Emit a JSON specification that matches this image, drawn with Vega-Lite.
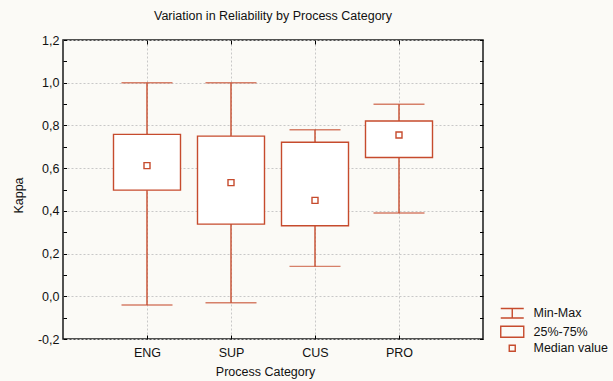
{
  "$schema": "https://vega.github.io/schema/vega-lite/v6.json",
  "width": 420,
  "height": 299,
  "autosize": {"type": "none"},
  "padding": {"left": 63, "top": 40, "right": 130, "bottom": 42},
  "background": "#fbfaf6",
  "config": {
    "font": "Liberation Sans",
    "view": {"stroke": "#1a1a1a", "strokeWidth": 1.5, "fill": "white"}
  },
  "title": {
    "text": "Variation in Reliability by Process Category",
    "font": "Liberation Sans",
    "fontSize": 12.5,
    "fontWeight": "normal",
    "color": "#111111",
    "anchor": "middle",
    "offset": 12
  },
  "data": {
    "values": [
      {"category": "ENG", "min": -0.041, "q1": 0.497, "median": 0.612, "q3": 0.758, "max": 1.0},
      {"category": "SUP", "min": -0.03, "q1": 0.338, "median": 0.532, "q3": 0.75, "max": 1.0},
      {"category": "CUS", "min": 0.14, "q1": 0.33, "median": 0.449, "q3": 0.721, "max": 0.78},
      {"category": "PRO", "min": 0.39, "q1": 0.65, "median": 0.755, "q3": 0.821, "max": 0.899}
    ]
  },
  "layer": [
    {
      "mark": {"type": "rule", "color": "#c64b2d", "strokeWidth": 1.4},
      "encoding": {
        "x": {
          "field": "category", "type": "nominal",
          "scale": {"type": "point", "domain": ["_a", "ENG", "SUP", "CUS", "PRO", "_b"], "padding": 0},
          "axis": {
            "orient": "bottom", "values": ["ENG", "SUP", "CUS", "PRO"], "domain": false,
            "grid": true, "gridColor": "#c8c8c8", "gridDash": [2, 2], "gridWidth": 1,
            "tickSize": -4, "tickColor": "#000000", "labelPadding": 11.3, "labelAngle": 0,
            "labelFontSize": 12.5, "labelColor": "#111111",
            "title": "Process Category", "titleFontSize": 12.5, "titleFontWeight": "normal",
            "titleColor": "#111111", "titleX": 202, "titleY": 26, "titleAnchor": "middle", "titleBaseline": "top"
          }
        },
        "y": {
          "field": "min", "type": "quantitative",
          "scale": {"domain": [-0.2, 1.2], "nice": false, "zero": false},
          "axis": {
            "orient": "left",
            "values": [-0.2, -0.1, 0, 0.1, 0.2, 0.3, 0.4, 0.5, 0.6, 0.7, 0.8, 0.9, 1, 1.1, 1.2],
            "labelExpr": "abs(round(datum.value*10))%2==0 ? (datum.value < -0.001 ? '-' : '') + replace(format(abs(datum.value), '.1f'), '.', ',') : ''",
            "domain": false, "grid": true, "gridColor": "#c8c8c8", "gridDash": [2, 2],
            "gridOpacity": {"condition": {"test": "abs(round(datum.value*10))%2==0", "value": 1}, "value": 0},
            "tickSize": -3.5, "tickColor": "#000000", "labelPadding": 7.5,
            "labelFontSize": 12.5, "labelColor": "#111111",
            "title": "Kappa", "titleFontSize": 12.5, "titleFontWeight": "normal", "titleColor": "#111111",
            "titlePadding": 12, "titleY": 155
          }
        },
        "y2": {"field": "max"}
      }
    },
    {
      "mark": {"type": "tick", "color": "#c64b2d", "size": 51, "thickness": 1.4},
      "encoding": {
        "x": {"field": "category", "type": "nominal", "axis": null},
        "y": {
          "field": "min", "type": "quantitative",
          "axis": {
            "orient": "right",
            "values": [-0.2, -0.1, 0, 0.1, 0.2, 0.3, 0.4, 0.5, 0.6, 0.7, 0.8, 0.9, 1, 1.1, 1.2],
            "labels": false, "domain": false, "grid": false, "tickSize": -3.5, "tickColor": "#000000", "title": null
          }
        }
      }
    },
    {
      "mark": {"type": "tick", "color": "#c64b2d", "size": 51, "thickness": 1.4},
      "encoding": {
        "x": {"field": "category", "type": "nominal", "axis": null},
        "y": {"field": "max", "type": "quantitative", "axis": null}
      }
    },
    {
      "mark": {"type": "bar", "size": 67, "fill": "white", "stroke": "#c64b2d", "strokeWidth": 1.4},
      "encoding": {
        "x": {
          "field": "category", "type": "nominal",
          "axis": {"orient": "top", "values": ["ENG", "SUP", "CUS", "PRO"], "labels": false, "domain": false, "grid": false, "tickSize": -4, "tickColor": "#000000", "title": null}
        },
        "y": {"field": "q1", "type": "quantitative", "axis": null},
        "y2": {"field": "q3"}
      }
    },
    {
      "mark": {"type": "point", "shape": "square", "size": 36, "filled": true, "fill": "white", "stroke": "#c64b2d", "strokeWidth": 1.4, "opacity": 1},
      "encoding": {
        "x": {"field": "category", "type": "nominal", "axis": null},
        "y": {"field": "median", "type": "quantitative", "axis": null}
      }
    },
    {
      "data": {"values": [{"item": "Min-Max"}, {"item": "25%-75%"}, {"item": "Median value"}]},
      "mark": {"type": "point", "filled": false, "color": "#c64b2d", "opacity": 0},
      "encoding": {
        "shape": {
          "field": "item", "type": "nominal",
          "scale": {
            "domain": ["Min-Max", "25%-75%", "Median value"],
            "range": ["M-2.3,-0.94H2.3M0,-0.94V0.94M-2.3,0.94H2.3", "M-2.3,-1.1H2.3V1.1H-2.3Z", "M-0.6,-0.6H0.6V0.6H-0.6Z"]
          },
          "legend": {
            "title": null, "orient": "none", "legendX": 443, "legendY": 267, "padding": 0,
            "labelFontSize": 12.5, "labelFont": "Liberation Sans", "labelColor": "#111111",
            "symbolSize": 100, "symbolStrokeWidth": 1.4, "symbolStrokeColor": "#c64b2d",
            "symbolFillColor": "white", "symbolOpacity": 1, "labelOffset": 15, "rowPadding": 1.5,
            "encode": {"symbols": {"update": {"opacity": {"value": 1}, "fill": {"value": "white"}, "stroke": {"value": "#c64b2d"}}}}
          }
        }
      }
    }
  ],
  "resolve": {"axis": {"x": "independent", "y": "independent"}}
}
